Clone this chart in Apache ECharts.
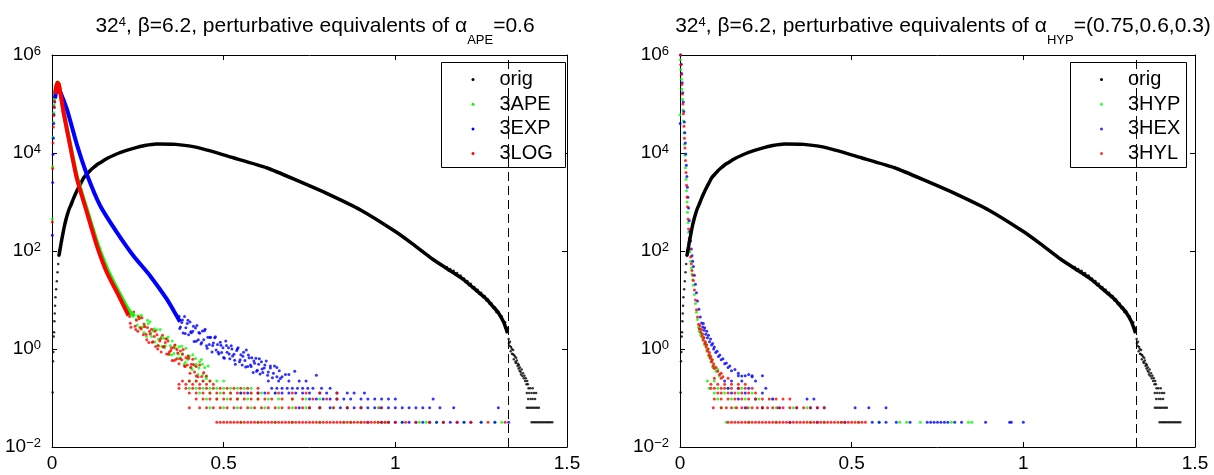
<!DOCTYPE html>
<html>
<head>
<meta charset="utf-8">
<script src="https://cdn.jsdelivr.net/npm/echarts@6/dist/echarts.min.js"></script>
<style>
html, body { margin: 0; padding: 0; background: #fff; }
#chart { width: 1214px; height: 475px; }
</style>
</head>
<body>
<div id="chart"></div>
<script>
// axis settings
var yTicks = [0.01, 1, 100, 10000, 1000000];
var cutoff = 1.3333;

// ---- orig (same histogram in both panels) ----
var origRise = [[0.002,0.13],[0.003,0.56],[0.004,0.87],[0.005,1.8],[0.006,2.2],[0.007,3.7],[0.008,5.3],[0.009,7.6],[0.010,11.4],[0.012,16.6],[0.014,24],[0.016,37],[0.018,54],[0.020,79]];
var origCurve = [[0.020,79],[0.022,95],[0.025,125],[0.028,165],[0.032,230],[0.036,320],[0.04,420],[0.045,560],[0.05,720],[0.056,900],[0.063,1200],[0.07,1550],[0.077,1950],[0.085,2500],[0.092,3100],[0.1,3600],[0.11,4300],[0.12,5000],[0.13,5700],[0.14,6300],[0.16,7700],[0.18,9000],[0.2,10300],[0.237,12400],[0.27,14200],[0.305,15300],[0.36,15000],[0.431,12600],[0.528,8000],[0.625,5000],[0.722,2600],[0.8,1500],[0.9,680],[1.0,250],[1.05,140],[1.109,68],[1.15,44],[1.196,27],[1.23,17],[1.265,10.5],[1.285,7.3],[1.30,5.5],[1.315,3.6],[1.327,2.1]];
var origNoise = [[1.15,47],[1.155,40],[1.16,43],[1.165,37],[1.17,39.5],[1.175,33],[1.18,35.5],[1.185,29.5],[1.19,31.5],[1.195,26.5],[1.2,27.5],[1.205,23],[1.21,24.5],[1.215,20],[1.22,21.5],[1.225,17.5],[1.23,18.5],[1.235,15.3],[1.24,16.2],[1.245,13.3],[1.25,14],[1.255,11.5],[1.26,12],[1.265,9.8],[1.27,10.2],[1.275,8.3],[1.28,8.6],[1.285,6.9],[1.29,7.1],[1.295,5.6],[1.3,5.8],[1.305,4.6],[1.31,4.6],[1.315,3.6],[1.32,3.5],[1.325,2.7],[1.328,2.6]];
var origTail = [[1.330,1.6],[1.331,1.3],[1.333,1.15],[1.334,1.4],[1.336,0.9],[1.337,1.1],[1.339,1.0],[1.34,0.8],[1.342,0.78],[1.343,0.95],[1.345,0.62],[1.346,0.75],[1.348,0.7],[1.35,0.55],[1.351,0.52],[1.352,0.66],[1.354,0.58],[1.356,0.45],[1.357,0.5],[1.359,0.4],[1.36,0.47],[1.362,0.36],[1.363,0.42],[1.365,0.34],[1.366,0.3],[1.368,0.38],[1.37,0.28],[1.372,0.32],[1.374,0.253],[1.376,0.285],[1.378,0.221],[1.38,0.253],[1.382,0.19],[1.384,0.221],[1.386,0.19],[1.388,0.158],[1.393,0.158],[1.40,0.158],[1.404,0.127],[1.383,0.127],[1.39,0.127],[1.397,0.127],[1.41,0.127],[1.387,0.095],[1.394,0.095],[1.40,0.095],[1.407,0.095],[1.383,0.063],[1.388,0.063],[1.393,0.063],[1.398,0.063],[1.403,0.063],[1.408,0.063],[1.413,0.063],[1.418,0.063],[1.397,0.032],[1.402,0.032],[1.407,0.032],[1.412,0.032],[1.417,0.032],[1.422,0.032],[1.427,0.032],[1.432,0.032],[1.437,0.032],[1.442,0.032],[1.447,0.032],[1.452,0.032],[1.457,0.032]];

// ---- left panel: 3APE ----
var apeRise = [[0.001,450],[0.002,5300],[0.003,21000],[0.004,42000],[0.005,66000],[0.006,95000],[0.007,125000],[0.008,150000]];
var apeCurve = [[0.009,170000],[0.012,225000],[0.016,275000],[0.02,255000],[0.034,70000],[0.053,15000],[0.073,3200],[0.102,680],[0.131,150],[0.16,44],[0.189,17],[0.223,6.2],[0.24,4.6]];
var apeBand = [[0.245,4.06],[0.25,4.77],[0.255,2.74],[0.26,4.86],[0.265,2.86],[0.27,2.99],[0.275,1.8],[0.28,3.27],[0.285,3.58],[0.29,1.79],[0.295,2.36],[0.3,1.39],[0.305,2.46],[0.31,1.59],[0.315,2.51],[0.32,1.14],[0.325,1.66],[0.33,1.16],[0.335,1.58],[0.34,0.79],[0.345,1.17],[0.35,1.46],[0.355,0.81],[0.36,1.03],[0.365,0.65],[0.37,1.11],[0.375,0.66],[0.38,0.8],[0.385,0.48],[0.39,1.04],[0.395,0.61],[0.4,0.72],[0.405,0.42],[0.41,0.76],[0.415,0.46],[0.42,0.49],[0.425,0.3],[0.43,0.55],[0.435,0.61],[0.44,0.31],[0.445,0.42],[0.45,0.25],[0.455,0.45],
  [0.248,3.1],[0.258,4.37],[0.268,2.18],[0.278,3.86],[0.288,2.12],[0.298,2.59],[0.308,1.21],[0.318,1.76],[0.328,1.06],[0.338,1.76],[0.348,0.75],[0.358,1.19],[0.368,0.79],[0.378,1.14],[0.388,0.53],[0.398,0.71],[0.408,0.38],[0.418,0.64],[0.428,0.41],[0.438,0.49],[0.448,0.27]];
var apeRows = [
  [0.221, [0.40,0.42,0.44,0.46,0.48,0.50]],
  [0.158, [0.40,0.42,0.44,0.46,0.48,0.50,0.52,0.54,0.56,0.58]],
  [0.127, [0.43,0.46,0.49,0.52,0.55,0.58,0.61,0.65]],
  [0.095, [0.45,0.48,0.51,0.54,0.57,0.60,0.63,0.66,0.70,0.74,0.78,0.83]],
  [0.063, [0.46,0.50,0.54,0.58,0.62,0.66,0.70,0.74,0.78,0.82,0.86,0.90,0.95]],
  [0.032, [0.55,0.60,0.65,0.70,0.78,0.85,0.87,0.90,0.95,0.97,1.02,1.07,1.09,1.12,1.20,1.25,1.29,1.31]]
];

// ---- left panel: 3EXP ----
var expRise = [[0.001,210],[0.002,2500],[0.003,9300],[0.004,20000],[0.005,40000],[0.006,60000],[0.007,85000],[0.008,110000]];
var expCurve = [[0.009,130000],[0.012,180000],[0.016,215000],[0.025,170000],[0.044,76000],[0.073,14500],[0.102,3600],[0.14,850],[0.189,240],[0.237,80],[0.286,31],[0.334,10.5],[0.36,5.2],[0.373,3.6]];
var expBand = [[0.37,4.68],[0.374,2.82],[0.378,3.49],[0.382,2.11],[0.386,4.62],[0.39,2.73],[0.394,3.3],[0.398,1.95],[0.402,3.56],[0.406,2.15],[0.41,2.31],[0.414,1.43],[0.418,2.67],[0.422,3.0],[0.426,1.55],[0.43,2.09],[0.434,1.27],[0.438,2.33],[0.442,1.55],[0.446,2.53],[0.45,1.17],[0.454,1.74],[0.458,1.24],[0.462,1.73],[0.466,0.87],[0.47,1.33],[0.474,1.69],[0.478,0.95],[0.482,1.24],[0.486,0.79],[0.49,1.38],[0.494,0.85],[0.498,1.06],[0.502,0.65],[0.506,1.45],[0.51,0.86],[0.514,1.06],[0.518,0.63],[0.522,1.17],[0.526,0.72],[0.53,0.78],[0.534,0.49],[0.538,0.93],[0.542,1.06],[0.546,0.55],[0.55,0.76],[0.554,0.47],[0.558,0.86],[0.562,0.58],[0.566,0.95],[0.57,0.44],[0.574,0.66],[0.578,0.47],[0.582,0.66],[0.586,0.33],[0.59,0.51],[0.594,0.65],[0.598,0.37],[0.602,0.49],[0.606,0.31],[0.61,0.55],[0.614,0.33],[0.618,0.41],[0.624,0.57],[0.63,0.34],[0.636,0.41],[0.642,0.26],[0.648,0.45],[0.655,0.27],[0.662,0.36],[0.67,0.27],[0.68,0.3],[0.69,0.3],[0.707,0.35],[0.77,0.29],
  [0.372,2.63],[0.38,3.92],[0.388,2.07],[0.396,3.88],[0.404,2.24],[0.412,2.91],[0.42,1.44],[0.428,2.18],[0.436,1.36],[0.444,2.35],[0.452,1.04],[0.46,1.72],[0.468,1.18],[0.476,1.77],[0.484,0.86],[0.492,1.19],[0.5,0.67],[0.508,1.18],[0.516,0.79],[0.524,1.0],[0.532,0.59],[0.54,1.0],[0.548,0.6],[0.556,0.71],[0.564,0.43],[0.572,0.75],[0.58,0.44],[0.588,0.57],[0.596,0.35],[0.604,0.63],[0.612,0.39],[0.62,0.47],[0.628,0.29],[0.636,0.45],[0.645,0.32],[0.655,0.42],[0.665,0.25]];
var expRows = [
  [0.221, [0.63,0.66,0.69,0.72,0.74]],
  [0.158, [0.64,0.655,0.67,0.685,0.70,0.715,0.73,0.745,0.76,0.785,0.81]],
  [0.127, [0.55,0.57,0.60,0.62,0.65,0.67,0.69,0.71,0.73,0.75,0.78,0.80,0.83,0.86,0.88,0.91]],
  [0.095, [0.75,0.77,0.79,0.81,0.83,0.85,0.87,0.90,0.92,0.94,0.96,0.98,1.0,1.11]],
  [0.063, [0.72,0.75,0.78,0.81,0.84,0.86,0.88,0.90,0.92,0.94,0.96,0.98,1.0,1.02,1.04,1.06,1.08,1.10,1.13,1.17,1.30]],
  [0.032, [0.92,0.96,0.98,1.0,1.02,1.04,1.06,1.08,1.10,1.12,1.14,1.16,1.18,1.20,1.22,1.25,1.29,1.33]]
];

// ---- left panel: 3LOG ----
var logRise = [[0.001,390],[0.002,4800],[0.003,16000],[0.004,34000],[0.005,58000],[0.006,88000],[0.007,115000],[0.008,140000]];
var logCurve = [[0.009,160000],[0.012,220000],[0.016,270000],[0.02,250000],[0.034,65000],[0.053,13800],[0.073,2900],[0.102,600],[0.131,126],[0.16,36],[0.189,14.5],[0.223,4.8]];
var logBand = [[0.226,4.58],[0.23,2.79],[0.234,5.14],[0.238,5.71],[0.242,2.9],[0.246,3.86],[0.25,2.3],[0.254,4.14],[0.258,2.7],[0.262,4.34],[0.266,1.96],[0.27,2.86],[0.274,2.0],[0.278,2.74],[0.282,1.36],[0.286,2.03],[0.29,2.52],[0.294,1.4],[0.298,1.79],[0.302,1.12],[0.306,1.95],[0.31,1.17],[0.314,1.45],[0.318,0.87],[0.322,1.91],[0.326,1.12],[0.33,1.35],[0.334,0.79],[0.338,1.45],[0.342,0.87],[0.346,0.93],[0.35,0.58],[0.354,1.07],[0.358,1.2],[0.362,0.62],[0.366,0.83],[0.37,0.5],[0.374,0.91],[0.378,0.6],[0.382,0.98],[0.386,0.45],[0.39,0.66],[0.394,0.47],[0.398,0.65],[0.402,0.32],[0.406,0.49],[0.41,0.62],[0.415,0.34],[0.42,0.44],[0.425,0.27],[0.43,0.47],[0.436,0.275],[0.442,0.33],[0.45,0.28],
  [0.228,3.37],[0.236,4.89],[0.244,2.51],[0.252,4.56],[0.26,2.56],[0.268,3.24],[0.276,1.55],[0.284,2.29],[0.292,1.38],[0.3,2.29],[0.308,1.0],[0.316,1.62],[0.324,1.1],[0.332,1.62],[0.34,0.78],[0.348,1.05],[0.356,0.58],[0.364,0.98],[0.372,0.63],[0.38,0.78],[0.388,0.44],[0.396,0.72],[0.404,0.42],[0.412,0.48],[0.42,0.28]];
var logRows = [
  [0.221, [0.38,0.40,0.42,0.44,0.46]],
  [0.19, [0.37,0.39,0.41,0.43,0.45,0.47]],
  [0.158, [0.37,0.39,0.41,0.43,0.45,0.47,0.49,0.51,0.53,0.55,0.57,0.60]],
  [0.127, [0.40,0.42,0.44,0.46,0.48,0.50,0.52,0.54,0.56,0.58,0.60,0.63,0.66,0.70,0.74,0.78,0.83]],
  [0.095, [0.42,0.44,0.46,0.48,0.50,0.52,0.54,0.56,0.58,0.60,0.62,0.64,0.67,0.70,0.73,0.76,0.80,0.83]],
  [0.063, [0.40,0.43,0.45,0.47,0.49,0.51,0.53,0.55,0.57,0.59,0.61,0.63,0.65,0.67,0.69,0.71,0.73,0.75,0.78,0.82,0.86,0.90,0.955]],
  [0.032, [0.48,0.49,0.50,0.51,0.52,0.53,0.54,0.55,0.56,0.57,0.58,0.59,0.60,0.61,0.62,0.63,0.64,0.65,0.66,0.67,0.68,0.69,0.70,0.71,0.72,0.73,0.74,0.75,0.76,0.77,0.78,0.79,0.80,0.81,0.82,0.83,0.84,0.85,0.86,0.87,0.88,0.89,0.90,0.91,0.92,0.93,0.94,0.95,0.96,0.97,0.98,1.0,1.03,1.06,1.1,1.14,1.18,1.22,1.27,1.32]]
];

// ---- right panel: 3HYP ----
var hypSteep = [[0.0005,60000],[0.001,800000],[0.0025,500000],[0.004,320000],[0.0055,200000],[0.007,125000],[0.0085,75000],[0.01,45000],[0.0115,26000],[0.013,15000],[0.0145,9000],[0.016,5000],[0.0175,2900],[0.019,1700],[0.0205,1000],[0.022,620],[0.0235,380],[0.025,240],[0.027,150],[0.029,95],[0.031,62],[0.033,45],[0.035,34],[0.037,26],[0.039,20],[0.042,13],[0.045,8.5],[0.048,5.6],[0.051,4],[0.054,2.8]];
var hypBand = [[0.056,2.3],[0.058,2.6],[0.06,1.9],[0.063,2.1],[0.066,1.6],[0.069,1.7],[0.072,1.2],[0.075,1.3],[0.078,0.95],[0.081,1.0],[0.084,0.7],[0.087,0.75],[0.09,0.55],[0.093,0.6],[0.096,0.42],[0.1,0.45],[0.105,0.35],[0.11,0.38],[0.115,0.28]];
var hypRows = [
  [0.221, [0.08,0.10]],
  [0.158, [0.085,0.11,0.14,0.18]],
  [0.127, [0.10,0.13,0.17,0.21]],
  [0.095, [0.11,0.15,0.19,0.23,0.27]],
  [0.063, [0.12,0.16,0.20,0.24,0.28,0.33,0.37]],
  [0.032, [0.135,0.20,0.28,0.38,0.42,0.47,0.52,0.58,0.64,0.66,0.70,0.79,0.84,0.85]]
];

// ---- right panel: 3HEX ----
var hexSteep = [[0.0005,40000],[0.002,1000000],[0.0035,650000],[0.005,420000],[0.0065,270000],[0.008,170000],[0.0095,110000],[0.011,70000],[0.0125,43000],[0.014,26000],[0.0155,16000],[0.017,9500],[0.0185,5600],[0.02,3300],[0.0215,2000],[0.023,1250],[0.025,750],[0.027,420],[0.029,250],[0.031,160],[0.033,110],[0.035,80],[0.037,62],[0.039,48],[0.042,32],[0.045,21],[0.048,14],[0.051,9.5],[0.055,6.5],[0.059,4.5],[0.063,3.4]];
var hexBand = [[0.066,2.8],[0.068,3.3],[0.07,2.4],[0.072,2.7],[0.075,2.0],[0.078,2.3],[0.08,1.7],[0.083,1.9],[0.086,1.4],[0.089,1.6],[0.092,1.2],[0.095,1.3],[0.098,1.0],[0.1,1.1],[0.104,0.85],[0.108,0.9],[0.112,0.7],[0.116,0.75],[0.12,0.6],[0.125,0.63],[0.13,0.5],[0.135,0.52],[0.14,0.42],[0.145,0.45],[0.15,0.36],[0.16,0.38],[0.17,0.32],[0.18,0.28],[0.2,0.3],[0.21,0.27]];
var hexRows = [
  [0.285, [0.17,0.19,0.21,0.24]],
  [0.221, [0.13,0.15,0.18,0.22]],
  [0.158, [0.14,0.17,0.20,0.25]],
  [0.127, [0.15,0.19,0.24]],
  [0.095, [0.17,0.22,0.27,0.37,0.39]],
  [0.063, [0.19,0.24,0.29,0.34,0.38,0.40,0.42,0.51,0.55,0.60]],
  [0.032, [0.32,0.40,0.48,0.56,0.58,0.60,0.63,0.67,0.72,0.73,0.74,0.75,0.76,0.77,0.78,0.80,0.82,0.89,0.96,0.965,1.0]]
];

// ---- right panel: 3HYL ----
var hylSteep = [[0.001,1000000],[0.0025,630000],[0.004,400000],[0.0055,250000],[0.007,160000],[0.0085,100000],[0.01,63000],[0.0115,35000],[0.013,20000],[0.0145,12600],[0.016,7000],[0.0175,4000],[0.019,2200],[0.0205,1260],[0.022,800],[0.0235,450],[0.025,280],[0.027,180],[0.029,110],[0.031,75],[0.033,55],[0.035,40],[0.037,32],[0.039,25],[0.042,16],[0.045,10],[0.048,6.3],[0.051,4.5],[0.054,3.2]];
var hylBand = [[0.056,2.6],[0.058,3.0],[0.06,2.2],[0.062,2.5],[0.064,1.8],[0.066,2.0],[0.068,1.5],[0.07,1.7],[0.072,1.3],[0.074,1.4],[0.076,1.1],[0.078,1.2],[0.08,0.9],[0.082,1.0],[0.084,0.75],[0.086,0.85],[0.088,0.65],[0.09,0.7],[0.092,0.55],[0.094,0.6],[0.096,0.45],[0.098,0.5],[0.1,0.4],[0.105,0.42],[0.11,0.35],[0.115,0.3],[0.12,0.32],[0.125,0.27]];
var hylRows = [
  [0.253, [0.10,0.12,0.14]],
  [0.19, [0.09,0.11,0.13,0.15,0.17,0.19]],
  [0.158, [0.09,0.10,0.12,0.13,0.15,0.17,0.19,0.21]],
  [0.127, [0.11,0.12,0.14,0.16,0.18,0.20,0.22]],
  [0.095, [0.10,0.12,0.14,0.16,0.18,0.20,0.22,0.24,0.26,0.28,0.30,0.32]],
  [0.063, [0.097,0.12,0.135,0.15,0.165,0.18,0.195,0.21,0.225,0.24,0.255,0.27,0.285,0.30,0.32,0.34,0.36,0.38,0.40,0.42]],
  [0.032, [0.14,0.15,0.16,0.17,0.18,0.19,0.20,0.21,0.22,0.23,0.24,0.25,0.26,0.27,0.28,0.29,0.30,0.31,0.32,0.33,0.34,0.35,0.36,0.37,0.38,0.39,0.40,0.41,0.42,0.43,0.44,0.45,0.46,0.47,0.48,0.49,0.50,0.51,0.52,0.53,0.54]]
];

var FONT = '"Liberation Sans", Arial, Helvetica, sans-serif';
var GREEN = '#00ff00', BLUE = '#0000ff', RED = '#ff0000', BLACK = '#000000';

function rowPoints(rows) {
    var out = [];
    rows.forEach(function (r) {
        r[1].forEach(function (x) { out.push([x, r[0]]); });
    });
    return out;
}

var series = [];

function addLine(gi, name, color, data, width, mark) {
    var s = {
        type: 'line', name: name, data: data,
        xAxisIndex: gi * 2, yAxisIndex: gi * 2,
        showSymbol: false, smooth: 0.2, silent: true,
        itemStyle: { color: color },
        lineStyle: { color: color, width: width }
    };
    if (mark) {
        s.markLine = {
            silent: true, symbol: ['none', 'none'], label: { show: false },
            lineStyle: { color: '#000', width: 1, type: [9, 5] },
            data: [{ xAxis: cutoff }]
        };
    }
    series.push(s);
}

function addDots(gi, name, color, data, size) {
    series.push({
        type: 'scatter', name: name, data: data,
        xAxisIndex: gi * 2, yAxisIndex: gi * 2,
        symbol: 'circle', symbolSize: size, silent: true,
        itemStyle: { color: color }
    });
}

// left panel
addLine(0, 'orig', BLACK, origCurve, 3.5, true);
addDots(0, 'orig', BLACK, origRise.concat(origNoise, origTail), 2.5);
addLine(0, '3APE', GREEN, apeCurve, 4);
addDots(0, '3APE', GREEN, apeRise.concat(apeBand, rowPoints(apeRows)), 3);
addLine(0, '3EXP', BLUE, expCurve, 4);
addDots(0, '3EXP', BLUE, expRise.concat(expBand, rowPoints(expRows)), 3);
addLine(0, '3LOG', RED, logCurve, 4);
addDots(0, '3LOG', RED, logRise.concat(logBand, rowPoints(logRows)), 3);

// right panel
addLine(1, 'orig', BLACK, origCurve, 3.5, true);
addDots(1, 'orig', BLACK, origRise.concat(origNoise, origTail), 2.5);
addDots(1, '3HYP', GREEN, hypSteep.concat(hypBand, rowPoints(hypRows)), 3);
addDots(1, '3HEX', BLUE, hexSteep.concat(hexBand, rowPoints(hexRows)), 3);
addDots(1, '3HYL', RED, hylSteep.concat(hylBand, rowPoints(hylRows)), 3);

var lineStyle = { color: '#000', width: 1 };

function xAxes(gi) {
    return [{
        type: 'value', gridIndex: gi, position: 'bottom', min: 0, max: 1.5, interval: 0.5,
        axisLine: { onZero: false, lineStyle: lineStyle },
        axisTick: { inside: true, length: 5, lineStyle: lineStyle },
        axisLabel: { margin: 7, color: '#000', fontSize: 19, fontFamily: FONT },
        splitLine: { show: false }
    }, {
        type: 'value', gridIndex: gi, position: 'top', min: 0, max: 1.5, interval: 0.5,
        axisLine: { onZero: false, lineStyle: lineStyle },
        axisTick: { inside: true, length: 5, lineStyle: lineStyle },
        axisLabel: { show: false },
        splitLine: { show: false }
    }];
}

function yAxes(gi) {
    return [{
        type: 'log', logBase: 10, gridIndex: gi, position: 'left', min: 0.01, max: 1000000,
        axisLine: { onZero: false, lineStyle: lineStyle },
        axisTick: { inside: true, length: 5, lineStyle: lineStyle, customValues: yTicks },
        minorTick: { show: false },
        axisLabel: {
            customValues: yTicks, margin: 11, color: '#000',
            formatter: function (v) {
                var e = Math.round(Math.log10(v));
                return '{b|10}{s|' + (e < 0 ? '\u2212' + (-e) : e) + '}';
            },
            rich: {
                b: { fontSize: 19, fontFamily: FONT, color: '#000', lineHeight: 20, padding: [6, 0, 6, 0], verticalAlign: 'middle' },
                s: { fontSize: 13, fontFamily: FONT, color: '#000', lineHeight: 13, verticalAlign: 'top' }
            }
        },
        splitLine: { show: false }
    }, {
        type: 'log', logBase: 10, gridIndex: gi, position: 'right', min: 0.01, max: 1000000,
        axisLine: { onZero: false, lineStyle: lineStyle },
        axisTick: { inside: true, length: 5, lineStyle: lineStyle, customValues: yTicks },
        minorTick: { show: false },
        axisLabel: { show: false },
        splitLine: { show: false }
    }];
}

var titleRich = {
    n: { fontSize: 21, fontWeight: 'normal', fontFamily: FONT, color: '#000', lineHeight: 31, verticalAlign: 'top' },
    sup: { fontSize: 13, fontWeight: 'normal', fontFamily: FONT, color: '#000', lineHeight: 13, verticalAlign: 'top' },
    sub: { fontSize: 13, fontWeight: 'normal', fontFamily: FONT, color: '#000', lineHeight: 13, verticalAlign: 'bottom' }
};

function legendFor(names, left) {
    return {
        data: names, orient: 'vertical', left: left, top: 69.5, padding: 0,
        icon: 'circle', itemWidth: 3, itemHeight: 3, itemGap: 4.7,
        selectedMode: false,
        textStyle: { fontSize: 20, fontFamily: FONT, color: '#000', lineHeight: 20, padding: [0, 0, 0, 20] }
    };
}

var chart = echarts.init(document.getElementById('chart'), null, { renderer: 'canvas' });

chart.setOption({
    animation: false,
    backgroundColor: '#fff',
    title: [{
        text: '{n|32}{sup|4}{n|, \u03b2=6.2, perturbative equivalents of \u03b1}{sub|APE}{n|=0.6}',
        left: 310, top: 10.5, textAlign: 'center',
        textStyle: { fontWeight: 'normal', rich: titleRich }
    }, {
        text: '{n|32}{sup|4}{n|, \u03b2=6.2, perturbative equivalents of \u03b1}{sub|HYP}{n|=(0.75,0.6,0.3)}',
        left: 938, top: 10.5, textAlign: 'center',
        textStyle: { fontWeight: 'normal', rich: titleRich }
    }],
    grid: [
        { left: 52, top: 55, width: 515, height: 392 },
        { left: 680, top: 55, width: 515, height: 392 }
    ],
    xAxis: xAxes(0).concat(xAxes(1)),
    yAxis: yAxes(0).concat(yAxes(1)),
    legend: [
        legendFor(['orig', '3APE', '3EXP', '3LOG'], 471.5),
        legendFor(['orig', '3HYP', '3HEX', '3HYL'], 1100)
    ],
    graphic: [
        { type: 'rect', z: 3, shape: { x: 441.5, y: 62.5, width: 124, height: 105 }, style: { fill: '#fff', stroke: '#000', lineWidth: 1 } },
        { type: 'rect', z: 3, shape: { x: 1070.5, y: 62.5, width: 116, height: 105 }, style: { fill: '#fff', stroke: '#000', lineWidth: 1 } }
    ],
    series: series
});
</script>
</body>
</html>
